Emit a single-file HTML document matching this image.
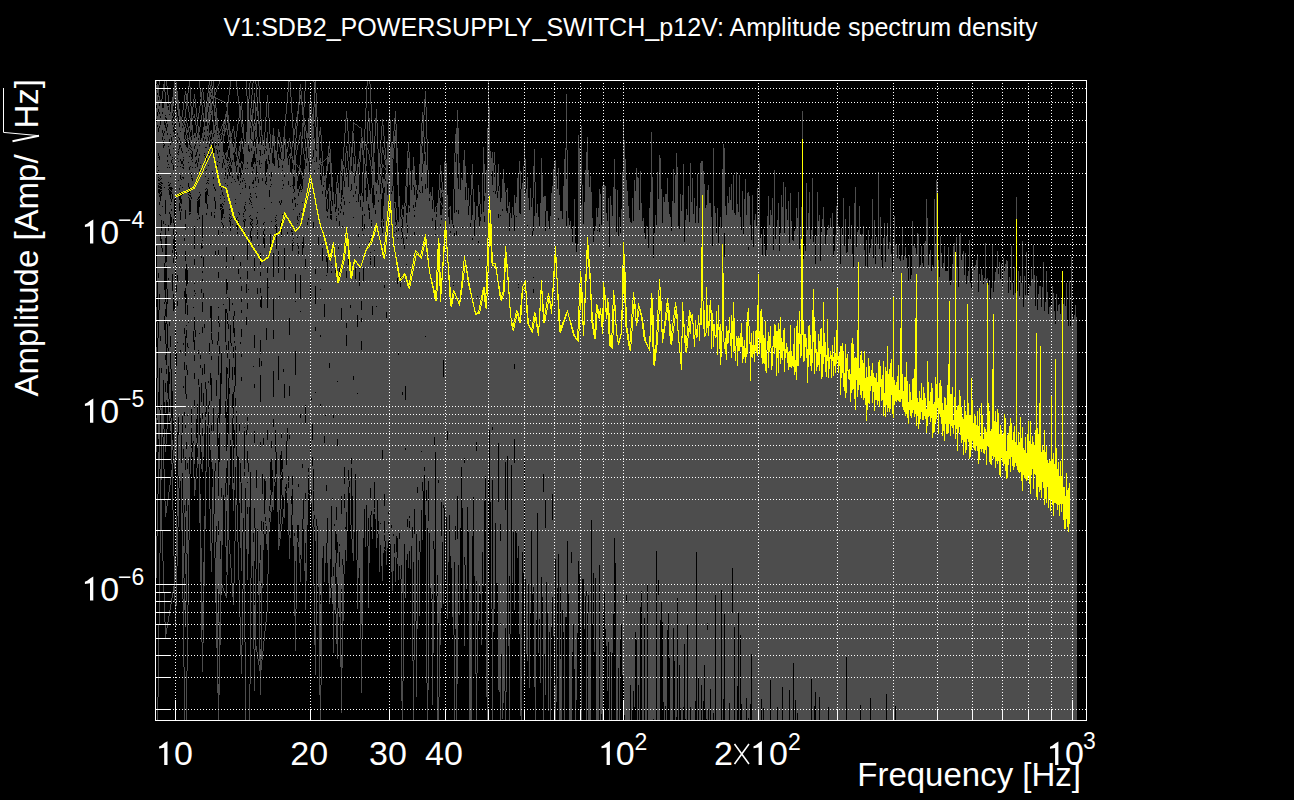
<!DOCTYPE html>
<html><head><meta charset="utf-8"><style>
html,body{margin:0;padding:0;background:#000;width:1294px;height:800px;overflow:hidden}
svg{display:block}
text{font-family:"Liberation Sans",sans-serif;fill:#fff}
</style></head><body>
<svg width="1294" height="800" viewBox="0 0 1294 800">
<rect width="1294" height="800" fill="#000"/>
<path d="M156.5 81v3m0 1v4m0 1v15m0 3v11m0 3v124m0 35v16m0 10v15m0 25v31m0 40v34m0 84v42M157.5 84v9m0 2v17m0 4v9m0 2v39m0 1v5m0 1v108m0 41v16m0 40v42m0 74v42m0 161v23M158.5 85v12m0 3v9m0 3v16m0 4v21m0 3v1m0 1v12m0 1v3m0 1v2m0 1v1m0 2v2m0 1v1m0 3v1m0 4v80m0 5v32m0 28v54m0 16v31m0 13v42m0 131v72M159.5 81v4m0 11v6m0 4v6m0 2v12m0 2v28m0 4v18m0 1v1m0 1v2m0 2v1m0 2v1m0 5v1m0 2v5m0 3v9m0 1v79m0 16v58m0 42v59m0 84v72M160.5 100v16m0 2v2m0 5v51m0 1v2m0 1v2m0 1v1m0 1v1m0 3v1m0 2v2m0 7v14m0 1v17m0 8v95m0 5v69m0 59v84M161.5 99v79m0 1v3m0 2v1m0 1v1m0 2v1m0 1v1m0 4v24m0 11v8m0 9v120m0 5v32m0 3v72m0 20v31M162.5 91v8m0 9v4m0 2v16m0 3v4m0 3v43m0 1v22m0 1v41m0 4v185m0 94v30M163.5 84v7m0 17v25m0 3v5m0 1v1m0 1v1m0 3v73m0 3v156m0 34v15m0 8v32m0 92v31M164.5 81v11m0 10v18m0 5v6m0 2v6m0 1v4m0 2v41m0 1v75m0 27v12m0 2v12m0 14v72m0 27v15m0 25v32m0 91v30M165.5 92v23m0 1v1m0 2v4m0 5v72m0 14v10m0 1v3m0 7v3m0 25v5m0 34v7m0 7v7m0 21v11m0 5v23m0 9v21m0 31v8m0 49v16m0 105v16M166.5 81v5m0 16v16m0 5v4m0 4v104m0 27v4m0 23v13m0 15v4m0 3v20m0 21v4m0 5v26m0 29v15m0 62v7m0 115v6M167.5 86v9m0 11v18m0 3v6m0 2v20m0 2v3m0 2v5m0 1v121m0 15v20m0 24v33m0 12v9m0 12v15m0 70v7m0 116v6M168.5 95v9m0 2v1m0 3v36m0 1v17m0 1v17m0 1v2m0 1v3m0 1v35m0 6v47m0 2v68m0 3v15m0 33v15m0 78v7m0 117v6M169.5 104v10m0 1v24m0 4v6m0 5v13m0 1v5m0 1v10m0 2v1m0 2v1m0 5v17m0 2v108m0 4v46m0 12v15m0 13v9m0 64v7m0 118v6M170.5 103v1m0 8v22m0 1v8m0 2v9m0 2v20m0 1v6m0 1v3m0 3v1m0 8v5m0 1v9m0 11v111m0 11v5m0 17v49m0 3v10m0 46v8m0 119v6M171.5 101v2m0 1v33m0 4v19m0 3v24m0 4v1m0 2v5m0 3v7m0 2v6m0 6v146m0 49v46m0 6v7m0 121v6M172.5 97v16m0 3v2m0 3v2m0 2v16m0 1v15m0 1v1m0 1v3m0 1v24m0 1v5m0 5v51m0 3v21m0 17v100m0 49v10m0 13v47m0 82v6M173.5 89v17m0 4v1m0 2v3m0 3v2m0 1v5m0 2v1m0 2v4m0 1v11m0 1v16m0 5v49m0 4v6m0 6v4m0 10v9m0 5v31m0 17v110m0 29v13m0 47v46m0 30v6M174.5 81v18m0 11v3m0 4v2m0 1v4m0 3v2m0 5v24m0 1v40m0 17v7m0 6v6m0 22v45m0 7v147m0 3v10m0 87v46M175.5 81v1m0 2v39m0 3v2m0 3v3m0 4v59m0 23v14m0 1v5m0 11v11m0 3v5m0 10v50m0 6v8m0 16v12m0 3v10m0 2v14m0 4v14m0 3v27m0 2v23m0 82v24m0 22v24M176.5 82v22m0 8v5m0 1v114m0 2v18m0 7v7m0 2v17m0 7v60m0 14v94m0 56v40m0 10v40M177.5 91v19m0 7v16m0 2v5m0 3v10m0 1v4m0 1v7m0 1v108m0 6v20m0 5v36m0 1v89m0 44v40m0 11v39M178.5 100v16m0 6v15m0 1v11m0 1v1m0 2v1m0 1v6m0 1v18m0 1v236m0 18v41m0 12v39M179.5 109v14m0 4v11m0 2v3m0 1v1m0 4v39m0 2v4m0 6v3m0 8v277M180.5 116v15m0 1v9m0 2v2m0 2v12m0 2v5m0 1v8m0 4v6m0 1v6m0 1v3m0 7v3m0 2v4m0 8v130m0 2v129M181.5 117v31m0 3v10m0 3v15m0 1v12m0 2v1m0 1v3m0 5v5m0 2v224m0 28v68M182.5 110v7m0 6v3m0 2v23m0 2v8m0 3v3m0 1v9m0 1v9m0 1v4m0 3v221m0 17v40m0 40v86M183.5 102v8m0 10v3m0 2v32m0 1v1m0 2v3m0 2v1m0 2v8m0 2v164m0 2v41m0 2v61m0 9v55m0 33v32m0 21v68M184.5 95v7m0 15v8m0 2v5m0 7v99m0 3v50m0 6v31m0 6v28m0 8v42m0 4v89m0 8v40m0 25v32m0 57v53M185.5 91v4m0 14v9m0 6v4m0 7v4m0 1v1m0 4v65m0 9v5m0 6v21m0 10v8m0 11v8m0 26v22m0 20v20m0 18v31m0 3v29m0 13v47m0 36v21m0 28v25M186.5 94v6m0 1v8m0 9v5m0 5v7m0 4v1m0 7v5m0 1v111m0 22v8m0 9v22m0 1v4m0 8v27m0 5v24m0 5v43m0 7v50m0 12v42m0 1v48m0 69v49M187.5 93v13m0 17v4m0 3v3m0 2v7m0 6v122m0 14v21m0 10v28m0 4v23m0 5v40m0 1v47m0 6v85m0 51v66M188.5 86v7m0 13v6m0 15v5m0 6v1m0 1v10m0 1v11m0 1v20m0 4v4m0 2v1m0 1v2m0 1v124m0 1v24m0 1v157m0 35v65M189.5 81v6m0 25v6m0 8v2m0 4v8m0 5v3m0 1v7m0 1v10m0 3v17m0 2v2m0 2v2m0 1v2m0 14v1m0 2v242m0 17v66M190.5 87v19m0 12v14m0 5v8m0 2v2m0 1v3m0 1v12m0 1v6m0 1v19m0 1v1m0 2v3m0 12v1m0 1v260M191.5 106v24m0 6v1m0 3v7m0 1v2m0 1v3m0 3v2m0 1v12m0 2v1m0 2v1m0 1v18m0 2v210m0 16v3m0 20v4M192.5 107v8m0 3v3m0 4v26m0 8v2m0 1v5m0 1v10m0 3v262m0 9v5M193.5 99v8m0 9v2m0 17v172m0 1v23m0 11v99m0 2v35M194.5 94v5m0 15v4m0 15v3m0 2v8m0 3v77m0 23v10m0 6v18m0 1v6m0 2v3m0 1v21m0 13v10m0 10v5m0 6v12m0 6v21m0 8v56m0 14v18M195.5 99v9m0 10v7m0 8v11m0 2v9m0 2v5m0 2v3m0 1v125m0 1v36m0 7v108m0 34v11M196.5 108v9m0 8v8m0 4v4m0 1v10m0 4v4m0 3v256m0 19v5m0 25v11M197.5 117v9m0 7v16m0 3v11m0 4v32m0 1v1m0 12v6m0 1v184m0 39v5m0 9v11M198.5 113v6m0 7v12m0 2v18m0 4v35m0 2v1m0 15v135m0 1v1m0 2v25m0 6v79M199.5 81v7m0 18v7m0 14v5m0 3v10m0 1v8m0 2v13m0 2v21m0 1v3m0 2v1m0 8v10m0 2v114m0 1v53m0 48v88M200.5 88v9m0 2v7m0 15v6m0 13v1m0 2v21m0 1v29m0 2v159m0 4v6m0 3v50m0 6v11m0 24v5m0 30v88M201.5 92v13m0 10v6m0 17v105m0 6v7m0 2v31m0 4v90m0 19v50m0 12v5m0 79v94M202.5 88v4m0 13v10m0 18v82m0 23v2m0 1v5m0 2v23m0 2v6m0 2v21m0 10v15m0 6v35m0 7v38m0 6v9m0 8v36m0 130v28m0 12v30M203.5 92v8m0 13v9m0 5v11m0 3v116m0 10v26m0 6v94m0 13v51m0 105v81M204.5 100v7m0 11v12m0 2v3m0 2v16m0 1v1m0 1v10m0 1v157m0 4v36m0 10v60m0 82v70M205.5 107v15m0 4v13m0 2v6m0 1v8m0 5v9m0 1v5m0 1v12m0 1v2m0 11v179m0 7v23m0 5v3m0 51v58M206.5 101v21m0 4v21m0 1v10m0 3v8m0 1v13m0 1v4m0 1v2m0 13v9m0 2v174m0 26v57M207.5 93v8m0 2v9m0 7v10m0 2v5m0 1v6m0 1v36m0 1v1m0 1v6m0 6v9m0 5v217M208.5 85v8m0 4v10m0 5v11m0 2v12m0 4v9m0 5v10m0 1v12m0 1v1m0 1v2m0 1v11m0 1v185m0 2v22m0 4v3m0 13v42M209.5 81v4m0 6v11m0 4v19m0 8v2m0 2v7m0 3v7m0 1v188m0 11v47m0 4v23m0 39v42M210.5 85v6m0 1v5m0 2v14m0 1v6m0 11v6m0 3v1m0 3v100m0 1v61m0 12v55m0 12v65m0 59v42M211.5 81v5m0 3v4m0 2v4m0 4v7m0 1v4m0 15v4m0 5v73m0 4v90m0 26v1m0 7v16m0 4v18m0 23v24m0 6v31m0 81v29M212.5 86v13m0 2v3m0 6v12m0 11v7m0 3v1m0 7v20m0 1v168m0 4v8m0 1v116m0 18v56M213.5 81v7m0 8v10m0 14v14m0 3v6m0 14v20m0 2v5m0 2v222m0 23v83M214.5 88v10m0 7v11m0 9v8m0 1v14m0 5v4m0 2v28m0 2v8m0 4v11m0 1v2m0 3v253m0 43v44M215.5 92v3m0 2v11m0 4v14m0 4v11m0 5v43m0 2v10m0 8v42m0 4v208m0 8v71m0 16v45M216.5 89v3m0 6v1m0 9v17m0 1v18m0 1v4m0 1v230m0 16v130m0 16v106M217.5 86v3m0 9v1m0 19v13m0 2v1m0 1v15m0 4v7m0 1v3m0 2v174m0 4v73m0 28v143m0 24v80M218.5 84v2m0 13v1m0 28v10m0 1v2m0 5v10m0 2v72m0 5v15m0 5v17m0 6v29m0 1v8m0 7v9m0 9v15m0 19v38m0 5v20m0 58v25m0 14v88m0 61v36M219.5 81v3m0 15v1m0 31v2m0 2v15m0 2v10m0 1v160m0 4v19m0 8v45m0 24v10m0 29v132m0 28v73M220.5 100v1m0 28v2m0 3v1m0 4v46m0 2v8m0 1v2m0 1v5m0 3v1m0 2v163m0 41v127m0 18v86M221.5 100v1m0 25v3m0 4v1m0 1v5m0 3v45m0 2v14m0 3v1m0 1v1m0 10v2m0 1v130m0 31v104m0 9v98M222.5 101v1m0 22v2m0 3v6m0 6v15m0 1v6m0 5v24m0 3v8m0 1v2m0 2v1m0 9v5m0 2v7m0 1v312m0 40v3M223.5 101v1m0 19v8m0 1v1m0 3v9m0 9v7m0 4v32m0 1v8m0 1v4m0 5v11m0 3v76m0 1v190m0 93v3M224.5 102v1m0 16v5m0 1v11m0 19v8m0 2v13m0 1v19m0 1v2m0 1v15m0 1v227m0 2v52m0 92v2M225.5 102v1m0 11v11m0 3v4m0 21v2m0 4v9m0 2v2m0 4v7m0 1v125m0 33v59m0 17v65m0 14v50m0 46v3M226.5 103v4m0 4v6m0 8v5m0 22v7m0 1v87m0 15v4m0 2v11m0 15v15m0 4v32m0 5v17m0 32v13m0 39v17m0 15v28m0 35v26m0 3v23M227.5 103v20m0 6v6m0 15v7m0 4v1m0 1v4m0 1v7m0 4v6m0 1v95m0 9v7m0 2v14m0 11v29m0 5v10m0 6v25m0 48v14m0 34v80M228.5 95v8m0 12v15m0 5v7m0 4v4m0 7v2m0 2v4m0 1v3m0 3v152m0 5v12m0 9v28m0 56v106M229.5 87v8m0 28v14m0 3v8m0 10v4m0 1v1m0 1v1m0 3v3m0 4v33m0 1v4m0 1v2m0 2v1m0 2v76m0 13v48m0 19v10m0 6v91m0 55v14M230.5 81v6m0 44v27m0 4v4m0 6v3m0 1v39m0 1v3m0 1v1m0 5v1m0 4v94m0 18v97m0 114v14M231.5 133v4m0 1v24m0 3v3m0 4v10m0 1v35m0 1v124m0 3v100m0 122v15M232.5 129v4m0 11v16m0 2v14m0 2v46m0 1v78m0 2v62m0 13v14m0 14v10m0 22v49m0 94v14M233.5 126v5m0 16v6m0 2v100m0 5v56m0 17v14m0 11v34m0 26v6m0 59v28m0 72v22M234.5 131v8m0 4v9m0 10v17m0 1v131m0 5v12m0 9v4m0 2v24m0 8v11m0 6v38m0 18v42m0 51v42M235.5 137v11m0 4v2m0 12v15m0 1v17m0 1v3m0 1v142m0 4v3m0 33v12m0 8v61m0 31v43M236.5 81v6m0 44v6m0 11v9m0 4v5m0 6v46m0 2v1m0 2v2m0 3v183m0 2v3m0 40v49M237.5 87v9m0 28v7m0 25v9m0 2v8m0 4v38m0 1v3m0 2v2m0 5v2m0 2v222m0 49v37M238.5 96v8m0 14v6m0 27v5m0 3v15m0 1v1m0 5v31m0 1v7m0 1v1m0 1v46m0 5v183m0 85v38M239.5 104v14m0 28v5m0 1v7m0 4v4m0 7v10m0 1v28m0 2v208m0 8v72m0 77v37M240.5 106v14m0 21v11m0 11v5m0 10v3m0 2v10m0 1v68m0 4v11m0 2v63m0 2v119m0 19v66m0 69v38M241.5 102v8m0 10v7m0 11v6m0 17v2m0 5v5m0 2v111m0 5v8m0 3v8m0 3v16m0 8v17m0 3v20m0 4v102m0 30v58m0 74v29M242.5 110v14m0 3v6m0 8v8m0 13v2m0 6v10m0 2v6m0 1v343m0 57v56M243.5 124v15m0 8v7m0 10v9m0 1v4m0 1v34m0 2v1m0 1v3m0 2v296m0 14v57M244.5 139v41m0 1v25m0 3v2m0 1v7m0 1v1m0 6v4m0 1v195m0 1v3m0 38v3m0 4v166M245.5 144v24m0 1v14m0 1v1m0 3v14m0 1v1m0 1v4m0 2v8m0 2v267m0 154v78M246.5 81v15m0 36v152m0 9v24m0 8v105m0 5v114M247.5 96v66m0 2v4m0 1v72m0 19v11m0 8v24m0 6v108m0 4v4m0 5v21m0 12v19m0 1v24m0 7v66M248.5 99v46m0 6v138m0 1v173m0 9v82M249.5 83v16m0 21v29m0 3v34m0 3v9m0 2v3m0 1v12m0 1v290m0 177v36M250.5 81v2m0 25v12m0 2v6m0 11v54m0 2v1m0 1v3m0 2v13m0 1v2m0 1v3m0 3v6m0 7v234m0 106v106M251.5 95v13m0 7v7m0 4v13m0 1v8m0 3v11m0 5v30m0 1v4m0 1v1m0 1v14m0 1v1m0 1v2m0 2v2m0 3v4m0 6v337M252.5 83v12m0 14v17m0 6v8m0 1v17m0 9v4m0 2v9m0 2v23m0 1v11m0 2v2m0 1v2m0 2v338M253.5 81v2m0 17v13m0 11v17m0 5v8m0 10v3m0 2v11m0 4v3m0 1v178m0 1v166m0 9v107M254.5 93v10m0 16v5m0 2v5m0 12v8m0 11v96m0 13v64m0 13v36m0 4v43m0 12v65m0 20v33m0 44v35m0 9v42M255.5 81v3m0 18v18m0 3v7m0 1v8m0 8v11m0 6v13m0 4v12m0 1v334m0 41v81M256.5 84v13m0 10v4m0 9v17m0 2v9m0 6v12m0 9v11m0 1v9m0 2v19m0 2v5m0 1v245m0 18v81m0 77v6M257.5 97v19m0 21v24m0 1v10m0 2v3m0 1v34m0 1v7m0 4v2m0 1v3m0 1v1m0 7v49m0 6v235m0 123v7M258.5 81v5m0 25v13m0 20v35m0 4v62m0 1v349m0 64v6M259.5 86v17m0 18v16m0 5v8m0 1v9m0 5v193m0 9v196m0 18v80m0 4v6M260.5 103v16m0 7v4m0 7v13m0 6v11m0 1v85m0 12v7m0 4v12m0 5v7m0 7v33m0 14v21m0 27v40m0 5v98m0 15v33m0 56v46M261.5 119v17m0 9v18m0 1v132m0 12v53m0 5v155m0 10v52m0 3v73m0 1v10M262.5 135v19m0 1v23m0 3v293m0 20v94m0 63v9M263.5 140v5m0 1v77m0 2v2m0 1v3m0 5v1m0 7v194m0 8v76m0 12v16m0 91v10M264.5 132v18m0 4v54m0 1v13m0 1v6m0 2v3m0 3v1m0 10v231m0 35v20m0 97v10M265.5 117v15m0 14v2m0 1v12m0 15v5m0 3v297m0 19v17m0 4v2m0 1v10m0 88v9M266.5 103v14m0 21v11m0 2v8m0 13v5m0 5v2m0 1v143m0 12v186m0 8v10m0 68v10M267.5 95v8m0 29v32m0 5v98m0 6v5m0 30v122m0 10v110m0 24v38M268.5 103v15m0 25v12m0 6v126m0 1v286M269.5 118v16m0 14v12m0 4v11m0 1v14m0 7v309m0 5v7m0 4v10M270.5 134v15m0 4v26m0 2v5m0 1v47m0 14v214m0 28v5m0 10v6m0 1v10M271.5 148v24m0 5v7m0 1v17m0 1v18m0 1v219m0 7v11m0 36v17M272.5 135v18m0 10v307m0 22v15M273.5 128v18m0 18v89m0 24v22m0 21v10m0 9v32m0 26v22m0 8v83M274.5 136v22m0 8v313m0 3v4M275.5 150v67m0 1v1m0 1v1m0 1v3m0 4v201m0 22v7m0 19v4M276.5 151v64m0 1v4m0 1v3m0 1v1m0 23v203m0 22v4M277.5 137v15m0 8v352M278.5 129v8m0 3v4m0 10v6m0 8v83m0 22v83m0 24v170M279.5 132v5m0 6v4m0 11v8m0 1v34m0 2v93m0 1v213m0 14v14m0 1v7M280.5 137v6m0 4v5m0 7v44m0 2v18m0 3v229m0 20v4m0 30v15m0 7v8M281.5 143v5m0 4v7m0 1v40m0 3v18m0 2v1m0 13v196m0 5v13m0 21v3m0 20v14m0 15v7M282.5 145v20m0 3v2m0 1v9m0 1v7m0 1v25m0 1v4m0 4v237m0 9v3m0 8v15m0 22v7M283.5 137v22m0 2v23m0 2v183m0 3v125m0 12v8M284.5 126v19m0 14v16m0 2v71m0 32v104m0 14v120M285.5 114v12m0 13v348m0 2v2M286.5 103v11m0 35v292m0 24v19m0 7v2M287.5 92v11m0 44v5m0 6v74m0 2v194m0 13v62M288.5 81v11m0 49v6m0 9v2m0 7v16m0 4v291m0 5v1m0 6v47M289.5 81v1m0 56v4m0 12v2m0 3v108m0 2v49m0 17v51m0 10v39m0 4v92m0 4v24M290.5 82v15m0 45v7m0 4v6m0 13v14m0 1v351M291.5 97v16m0 34v9m0 1v1m0 15v57m0 2v264m0 8v11M292.5 113v15m0 13v6m0 9v7m0 6v16m0 1v13m0 4v28m0 1v1m0 2v5m0 1v2m0 8v16m0 1v208m0 9v4m0 26v10M293.5 128v15m0 17v13m0 2v1m0 13v3m0 1v16m0 1v25m0 1v2m0 1v3m0 1v2m0 1v300M294.5 129v6m0 8v22m0 5v7m0 9v3m0 3v5m0 3v333m0 3v80M295.5 123v6m0 9v12m0 5v43m0 1v4m0 4v67m0 19v8m0 1v49m0 24v186m0 48v42M296.5 117v6m0 3v12m0 12v5m0 9v1m0 9v435M297.5 111v15m0 19v5m0 15v2m0 9v5m0 8v15m0 1v11m0 4v3m0 1v13m0 1v5m0 1v1m0 1v279m0 13v4M298.5 102v12m0 26v5m0 22v1m0 3v5m0 13v4m0 3v24m0 1v6m0 2v17m0 3v2m0 3v230m0 3v38m0 17v5M299.5 90v15m0 30v5m0 25v8m0 13v3m0 3v21m0 2v1m0 1v346M300.5 84v7m0 4v4m0 33v4m0 19v10m0 3v4m0 12v2m0 4v85m0 24v12m0 1v102m0 4v137m0 4v23M301.5 91v14m0 31v19m0 16v4m0 11v3m0 1v1m0 1v19m0 1v347M302.5 103v12m0 8v16m0 3v6m0 26v5m0 10v13m0 1v39m0 13v209m0 4v51M303.5 107v20m0 21v6m0 22v2m0 1v58m0 11v252m0 19v10M304.5 91v16m0 11v7m0 2v12m0 15v6m0 9v402M305.5 81v10m0 34v6m0 8v12m0 8v100m0 10v136m0 18v70m0 8v42m0 20v47M306.5 131v7m0 9v16m0 3v415M307.5 133v15m0 10v64m0 3v300M308.5 118v20m0 2v18m0 3v57m0 2v248m0 4v3m0 18v1M309.5 104v36m0 7v15m0 10v1m0 1v6m0 2v308m0 4v1M310.5 96v8m0 7v11m0 18v12m0 2v88m0 3v37m0 19v139m0 12v55M311.5 102v12m0 3v23m0 1v21m0 2v234m0 2v76m0 1v13m0 5v8M312.5 114v43m0 2v265m0 16v17m0 9v61M313.5 81v1m0 25v17m0 2v12m0 1v11m0 7v65m0 6v241m0 21v1m0 20v8m0 8v59M314.5 82v25m0 31v23m0 1v8m0 2v343m0 4v8m0 59v59M315.5 81v12m0 11v23m0 23v119m0 5v12m0 18v23m0 4v61m0 1v148m0 84v50M316.5 93v24m0 10v22m0 2v6m0 5v357m0 7v99M317.5 117v25m0 2v382M318.5 137v31m0 1v68m0 8v342M319.5 131v6m0 23v4m0 1v530M320.5 127v8m0 23v7m0 15v109m0 1v45m0 2v67m0 2v189m0 9v52m0 29v35M321.5 135v16m0 11v1m0 1v12m0 9v500M322.5 151v15m0 10v15m0 3v49m0 1v4m0 13v297M323.5 161v1m0 4v19m0 2v359M324.5 160v1m0 15v5m0 1v122m0 13v119m0 7v139M325.5 159v1m0 15v15m0 7v218m0 1v147M326.5 158v1m0 7v12m0 12v9m0 12v44m0 7v13m0 1v209m0 6v52M327.5 156v15m0 20v3m0 5v10m0 3v4m0 2v40m0 15v245m0 25v20M328.5 146v10m0 1v7m0 24v3m0 18v374M329.5 141v8m0 4v9m0 22v179m0 5v236M330.5 149v25m0 17v10m0 13v1m0 4v340m0 29v10M331.5 163v24m0 14v10m0 3v1m0 5v44m0 1v6m0 2v233m0 71v11M332.5 177v23m0 6v292m0 1v105M333.5 192v223m0 3v149m0 9v77M334.5 204v320m0 2v84M335.5 194v13m0 5v49m0 1v5m0 1v2m0 3v258m0 19v13m0 21v30M336.5 182v12m0 15v7m0 1v1m0 3v286m0 13v14m0 29v14m0 37v30M337.5 175v8m0 5v193m0 1v57m0 7v96m0 11v31m0 24v51M338.5 183v25m0 3v2m0 2v32m0 2v359M339.5 193v28m0 5v42m0 10v266m0 2v6m0 15v50M340.5 171v33m0 2v5m0 2v454M341.5 159v12m0 5v14m0 8v1m0 3v4m0 3v99m0 13v175m0 18v75m0 67v57M342.5 161v15m0 19v31m0 1v332m0 6v103M343.5 147v14m0 4v4m0 12v16m0 2v13m0 3v350m0 9v47M344.5 133v14m0 20v14m0 6v14m0 4v262m0 17v10m0 14v66M345.5 119v14m0 20v14m0 6v354m0 2v21M346.5 111v8m0 27v7m0 15v7m0 2v94m0 7v45m0 5v7m0 11v166m0 18v31M347.5 118v13m0 20v10m0 14v355M348.5 131v13m0 17v9m0 17v70m0 8v205m0 10v7M349.5 144v13m0 13v32m0 1v278m0 6v6M350.5 157v33m0 1v114m0 3v217M351.5 147v19m0 5v13m0 6v268m0 6v4m0 57v14M352.5 131v22m0 19v324m0 43v14M353.5 122v9m0 2v8m0 16v15m0 2v21m0 2v20m0 1v158m0 4v181M354.5 123v1m0 17v15m0 8v12m0 7v349M355.5 124v1m0 31v15m0 5v15m0 3v74m0 11v195m0 5v1M356.5 124v1m0 46v15m0 3v12m0 1v358M357.5 125v1m0 38v151m0 12v66m0 1v137m0 29v49M358.5 126v1m0 32v8m0 7v20m0 8v32m0 3v341M359.5 127v1m0 23v8m0 3v13m0 19v53m0 1v20m0 1v3m0 14v282M360.5 127v1m0 15v19m0 34v4m0 7v432M361.5 128v9m0 1v10m0 45v108m0 9v8m0 4v19m0 9v274m0 15v54M362.5 137v18m0 17v21m0 3v11m0 4v4m0 16v408M363.5 141v2m0 7v23m0 29v32m0 1v33m0 13v257M364.5 129v21m0 8v6m0 9v41m0 2v8m0 5v280M365.5 108v21m0 15v2m0 18v24m0 2v357M366.5 86v22m0 36v22m0 5v7m0 23v304M367.5 81v5m0 36v22m0 4v2m0 28v6m0 13v349M368.5 111v11m0 28v4m0 30v20m0 6v308m0 28v62M369.5 81v3m0 34v13m0 23v6m0 30v18m0 3v1m0 7v22m0 1v321M370.5 84v20m0 27v13m0 16v6m0 28v43m0 1v14m0 1v3m0 1v1m0 2v1m0 4v223m0 10v17M371.5 104v19m0 21v13m0 9v6m0 16v32m0 2v1m0 3v285m0 4v12M372.5 123v20m0 14v12m0 2v17m0 15v103m0 9v224M373.5 143v42m0 23v306M374.5 136v17m0 9v33m0 10v45m0 1v4m0 13v214m0 26v1m0 3v2M375.5 118v18m0 46v28m0 4v305M376.5 109v14m0 60v8m0 3v112m0 1v241M377.5 123v26m0 31v320m0 34v4M378.5 149v31m0 5v15m0 2v319m0 9v4M379.5 153v14m0 7v398M380.5 140v13m0 11v10m0 2v8m0 10v329m0 1v21M381.5 126v14m0 13v11m0 4v8m0 7v16m0 22v1m0 6v338M382.5 119v7m0 21v6m0 11v4m0 9v6m0 5v5m0 26v9m0 5v217m0 9v122M383.5 125v11m0 14v5m0 10v2m0 12v9m0 18v13m0 2v1m0 4v327M384.5 136v12m0 7v5m0 7v1m0 11v8m0 6v92m0 3v206m0 12v15m0 12v2m0 6v6m0 2v1M385.5 148v11m0 1v5m0 3v2m0 4v5m0 2v360m0 9v1M386.5 159v153m0 6v247M387.5 141v43m0 11v353M388.5 120v21m0 1v23m0 8v7m0 2v330m0 2v8m0 2v8m0 1v8M389.5 109v11m0 15v12m0 10v7m0 11v144m0 4v211M390.5 120v22m0 5v397M391.5 142v50m0 2v331m0 3v44M392.5 144v14m0 1v27m0 5v400M393.5 131v13m0 4v11m0 27v348m0 2v35M394.5 118v13m0 5v12m0 54v1m0 5v24m0 1v311m0 9v4M395.5 111v13m0 6v11m0 61v6m0 14v3m0 1v356M396.5 124v39m0 45v12m0 5v5m0 2v304m0 16v6M397.5 148v37m0 35v18m0 1v39m0 6v254m0 20v6M398.5 172v35m0 15v6m0 3v122m0 2v225M399.5 196v337m0 6v27M400.5 217v60m0 2v2m0 1v1m0 4v292M401.5 209v8m0 2v7m0 6v6m0 1v326m0 14v122M402.5 205v4m0 6v4m0 9v4m0 6v154m0 3v198m0 88v39M403.5 207v2m0 8v21m0 6v437M404.5 203v42m0 4v295M405.5 186v17m0 3v180m0 14v48m0 2v148M406.5 169v17m0 1v19m0 7v2m0 8v14m0 2v25m0 1v295M407.5 151v36m0 26v12m0 8v286m0 8v27M408.5 142v10m0 6v10m0 37v363M409.5 152v33m0 21v2m0 4v304m0 2v3m0 7v23M410.5 171v398M411.5 190v356M412.5 170v357m0 11v123M413.5 157v28m0 2v18m0 3v354m0 98v60M414.5 166v21m0 8v15m0 1v4m0 2v15m0 3v274m0 25v126M415.5 180v22m0 5v414M416.5 185v5m0 10v334m0 87v76M417.5 190v4m0 4v289m0 6v136M418.5 185v375M419.5 164v26m0 2v349m0 11v64M420.5 144v48m0 1v359M421.5 123v21m0 2v31m0 4v270m0 1v58M422.5 112v11m0 8v15m0 7v11m0 10v12m0 7v289m0 9v49M423.5 115v22m0 27v327M424.5 99v16m0 22v17m0 7v306m0 4v4M425.5 91v16m0 45v32m0 5v147m0 1v178M426.5 107v32m0 26v325m0 11v182M427.5 139v31m0 18v340m0 155v37M428.5 170v311m0 40v169M429.5 194v4m0 3v332M430.5 192v396M431.5 196v403M432.5 187v13m0 9v9m0 3v373m0 5v106M433.5 200v341m0 8v104M434.5 212v225m0 8v104M435.5 207v13m0 10v4m0 1v217M436.5 206v1m0 5v2m0 3v379M437.5 203v372m0 21v124M438.5 190v290m0 3v140m0 74v23M439.5 174v16m0 8v499M440.5 165v9m0 14v10m0 3v2m0 12v9m0 2v419M441.5 171v11m0 8v3m0 10v2m0 10v3m0 2v282m0 34v72M442.5 182v10m0 1v4m0 8v2m0 2v333M443.5 190v170m0 17v128m0 3v96M444.5 162v346M445.5 147v433M446.5 163v354M447.5 195v236m0 9v179M448.5 209v1m0 7v345M449.5 207v2m0 15v291M450.5 206v25m0 2v323M451.5 220v348M452.5 224v393M453.5 189v36m0 3v54m0 1v2m0 1v349M454.5 153v36m0 24v20m0 3v326m0 73v85M455.5 134v19m0 9v364m0 14v89M456.5 128v82m0 2v19m0 4v485M457.5 110v44m0 24v318m0 43v145M458.5 128v45m0 16v21m0 4v351M459.5 163v452M460.5 190v338M461.5 178v289M462.5 180v47m0 1v280M463.5 160v440M464.5 150v308m0 5v94m0 8v81M465.5 166v21m0 13v365M466.5 183v406M467.5 200v307M468.5 188v18m0 9v317M469.5 206v514M470.5 195v28m0 5v217m0 1v274M471.5 175v20m0 25v500M472.5 164v25m0 26v23m0 2v296M473.5 189v308M474.5 202v18m0 16v340M475.5 220v454M476.5 206v236m0 9v130m0 92v47M477.5 206v90m0 1v376M478.5 185v21m0 11v24m0 2v378M479.5 192v12m0 22v33m0 1v326M480.5 204v13m0 4v373M481.5 214v431M482.5 174v378M483.5 147v27m0 38v374M484.5 164v32m0 5v15m0 6v279M485.5 193v283M486.5 170v527M487.5 128v592M488.5 81v398M489.5 107v323M490.5 151v351M491.5 158v16m0 2v433M492.5 152v19m0 14v242m0 3v50m0 129v111M493.5 163v28m0 1v440M494.5 152v13m0 12v432M495.5 165v26m0 3v329M496.5 191v392M497.5 174v18m0 6v385M498.5 164v22m0 5v23m0 4v225m0 59v188M499.5 186v506M500.5 202v13m0 1v308m0 17v82m0 2v95M501.5 198v456M502.5 179v30m0 2v508M503.5 169v534M504.5 183v508M505.5 192v270m0 48v118m0 63v29M506.5 190v2m0 19v481M507.5 188v20m0 5v243M508.5 206v440M509.5 202v11m0 18v345m0 58v86M510.5 213v421M511.5 218v247M512.5 207v376M513.5 215v317M514.5 195v20m0 16v133m0 5v70m0 24v147M515.5 203v328M516.5 197v19m0 1v316M517.5 178v380M518.5 174v110m0 1v2m0 1v258M519.5 161v13m0 39v421M520.5 171v18m0 25v502M521.5 189v531M522.5 183v369M523.5 166v407M524.5 144v22m0 16v274m0 117v112M525.5 159v30m0 4v386M526.5 189v465M527.5 177v48m0 1v435M528.5 198v386M529.5 210v478M530.5 188v425M531.5 207v324M532.5 198v33m0 5v358M533.5 166v32m0 33v46m0 1v11m0 4v294M534.5 149v33m0 34v471M535.5 182v538M536.5 213v407M537.5 204v309M538.5 217v436M539.5 226v393M540.5 203v480M541.5 158v419M542.5 175v422M543.5 197v277m0 18v228M544.5 196v458M545.5 196v15m0 20v269m0 28v167M546.5 211v371M547.5 211v402M548.5 221v490M549.5 229v403M550.5 216v504M551.5 193v434M552.5 186v308m0 26v77M553.5 169v467M554.5 161v559M555.5 160v399m0 126v35M556.5 176v526M557.5 189v399M558.5 168v50m0 2v334M559.5 195v525M560.5 211v376m0 72v61M561.5 211v509M562.5 219v391M563.5 186v446M564.5 159v561M565.5 148v469M566.5 94v56m0 29v32m0 15v391M567.5 150v391M568.5 218v376M569.5 225v495M570.5 221v499M571.5 229v323m0 11v157M572.5 242v410M573.5 226v398M574.5 199v470M575.5 243v477M576.5 252v448M577.5 244v389M578.5 135v426M579.5 148v426M580.5 165v461M581.5 126v59m0 20v515M582.5 185v394M583.5 224v355M584.5 202v427M585.5 170v426M586.5 152v439m0 5v124M587.5 137v475M588.5 170v425m0 17v108M589.5 187v533M590.5 176v544M591.5 192v328M592.5 218v406M593.5 242v331M594.5 231v421M595.5 226v352M596.5 208v512M597.5 217v13m0 1v489M598.5 208v512M599.5 189v35m0 8v333M600.5 194v526M601.5 225v489M602.5 186v49m0 2v483M603.5 182v430M604.5 185v407M605.5 186v443M606.5 213v433M607.5 221v470M608.5 198v444M609.5 247v473M610.5 196v456M611.5 205v515M612.5 216v437M613.5 187v427M614.5 159v379M615.5 189v374M616.5 232v488M617.5 190v530M618.5 236v432M619.5 217v503M620.5 233v406M621.5 209v415M622.5 172v503M623.5 119v562M624.5 140v575M625.5 159v561M626.5 180v415m0 8v117M627.5 191v529M628.5 206v514M629.5 218v502M630.5 222v463M631.5 223v497M632.5 198v512M633.5 221v470M634.5 180v527M635.5 191v441M636.5 168v472M637.5 177v543M638.5 178v507M639.5 210v510M640.5 171v436M641.5 203v388M642.5 221v499M643.5 218v502M644.5 233v385M645.5 239v481M646.5 226v494M647.5 229v356M648.5 248v472M649.5 208v512M650.5 192v528M651.5 132v588M652.5 177v543M653.5 258v461M654.5 233v487M655.5 215v505M656.5 225v326M657.5 172v548M658.5 199v381m0 15v125M659.5 155v565M660.5 158v462M661.5 189v413M662.5 223v399M663.5 197v505M664.5 202v518M665.5 194v512M666.5 194v526M667.5 178v452M668.5 202v411M669.5 214v444M670.5 217v503M671.5 231v489M672.5 201v519M673.5 169v459M674.5 203v458M675.5 175v545M676.5 153v564M677.5 167v431M678.5 226v494M679.5 229v436M680.5 194v514M681.5 211v509M682.5 195v525M683.5 164v543M684.5 242v402M685.5 220v499M686.5 209v511M687.5 215v410M688.5 186v534M689.5 222v498M690.5 163v544M691.5 202v518M692.5 178v542M693.5 214v506M694.5 198v522M695.5 223v478M696.5 206v346M697.5 174v546M698.5 223v454M699.5 208v512M700.5 163v557M701.5 161v524M702.5 161v559M703.5 171v530M704.5 184v481M705.5 208v502M706.5 205v514M707.5 190v433m0 7v90M708.5 185v524M709.5 203v517M710.5 203v486M711.5 217v503M712.5 246v474M713.5 148v565M714.5 206v514M715.5 213v382M716.5 233v487M717.5 208v512M718.5 243v477M719.5 227v493M720.5 217v503M721.5 228v362M722.5 169v551M723.5 144v555M724.5 148v85m0 24v357M725.5 206v514M726.5 215v505M727.5 196v524M728.5 203v517M729.5 187v516M730.5 200v520M731.5 184v536M732.5 210v358m0 45v107M733.5 175v545M734.5 213v414M735.5 215v505M736.5 172v548M737.5 204v482M738.5 212v401M739.5 175v545M740.5 217v418M741.5 230v474M742.5 191v529M743.5 234v486M744.5 199v521M745.5 179v541M746.5 215v483M747.5 193v527M748.5 192v55m0 3v468M749.5 196v524M750.5 225v479M751.5 240v414M752.5 195v525M753.5 247v473M754.5 220v500M755.5 214v506M756.5 226v494M757.5 188v532M758.5 215v505M759.5 163v557M760.5 238v482M761.5 234v465M762.5 255v465M763.5 229v479M764.5 246v474M765.5 256v464M766.5 250v470M767.5 216v504M768.5 196v524M769.5 225v495M770.5 210v470M771.5 215v505M772.5 198v522M773.5 250v470M774.5 170v550M775.5 239v481M776.5 228v492M777.5 220v487M778.5 203v517M779.5 251v469M780.5 233v487M781.5 195v525M782.5 207v480M783.5 182v538M784.5 233v487M785.5 187v533M786.5 209v511M787.5 220v500M788.5 201v519M789.5 243v447M790.5 193v527M791.5 221v499M792.5 240v480M793.5 241v422M794.5 231v489M795.5 229v471M796.5 208v512M797.5 218v495M798.5 192v528M799.5 249v471M800.5 228v492M801.5 207v513M802.5 111v609M803.5 259v461M804.5 246v474M805.5 251v469M806.5 183v537M807.5 230v490M808.5 213v507M809.5 192v528M810.5 239v481M811.5 230v449M812.5 178v542M813.5 242v478M814.5 236v470M815.5 264v428M816.5 236v484M817.5 192v528M818.5 221v499M819.5 215v482M820.5 261v459M821.5 232v488M822.5 219v501M823.5 207v513M824.5 227v493M825.5 244v476M826.5 235v485M827.5 230v490M828.5 225v482M829.5 228v492M830.5 218v502M831.5 227v493M832.5 213v507M833.5 257v463M834.5 251v469M835.5 235v485M836.5 206v514M837.5 185v535M838.5 226v494M839.5 229v491M840.5 264v456M841.5 228v492M842.5 236v484M843.5 198v522M844.5 246v474M845.5 219v501M846.5 253v404M847.5 252v468M848.5 239v481M849.5 206v514M850.5 239v481M851.5 225v495M852.5 254v466M853.5 267v453M854.5 203v517M855.5 187v533M856.5 247v473M857.5 232v488M858.5 230v490M859.5 206v514M860.5 234v471M861.5 235v485M862.5 234v486M863.5 226v494M864.5 250v470M865.5 266v454M866.5 240v480M867.5 267v453M868.5 230v490M869.5 253v467M870.5 248v450M871.5 239v481M872.5 199v521M873.5 258v462M874.5 220v500M875.5 264v456M876.5 237v483M877.5 244v476M878.5 172v548M879.5 249v471M880.5 217v503M881.5 260v460M882.5 268v452M883.5 238v482M884.5 223v497M885.5 262v458M886.5 236v458M887.5 223v497M888.5 249v471M889.5 242v478M890.5 198v522M891.5 254v466M892.5 272v448M893.5 240v480M894.5 216v504M895.5 245v461M896.5 244v476M897.5 258v462M898.5 245v475M899.5 259v461M900.5 261v459M901.5 255v465M902.5 228v492M903.5 260v460M904.5 256v464M905.5 247v473M906.5 258v462M907.5 268v452M908.5 281v439M909.5 255v465M910.5 279v441M911.5 275v445M912.5 221v499M913.5 246v474M914.5 244v476M915.5 248v472M916.5 254v466M917.5 233v487M918.5 234v486M919.5 267v453M920.5 265v455M921.5 246v474M922.5 263v457M923.5 268v452M924.5 243v477M925.5 241v479M926.5 199v521M927.5 218v502M928.5 265v455M929.5 254v466M930.5 250v470M931.5 271v449M932.5 265v455M933.5 267v453M934.5 199v521M935.5 245v475M936.5 180v540M937.5 182v538M938.5 260v460M939.5 277v443M940.5 236v484M941.5 253v467M942.5 268v452M943.5 263v457M944.5 246v474M945.5 271v449M946.5 271v449M947.5 271v449M948.5 247v473M949.5 281v439M950.5 285v435M951.5 280v440M952.5 264v456M953.5 246v474M954.5 243v477M955.5 279v441M956.5 237v483M957.5 267v453M958.5 287v433M959.5 235v485M960.5 233v487M961.5 260v460M962.5 254v466M963.5 251v469M964.5 275v445M965.5 253v467M966.5 284v436M967.5 276v444M968.5 271v449M969.5 240v480M970.5 283v437M971.5 288v432M972.5 261v459M973.5 267v453M974.5 270v450M975.5 265v455M976.5 260v460M977.5 254v466M978.5 292v428M979.5 274v446M980.5 281v439M981.5 269v451M982.5 275v445M983.5 284v436M984.5 278v442M985.5 243v477M986.5 279v441M987.5 278v442M988.5 285v435M989.5 280v440M990.5 299v421M991.5 288v432M992.5 244v476M993.5 292v428M994.5 281v439M995.5 272v448M996.5 268v452M997.5 251v469M998.5 274v446M999.5 262v458M1000.5 279v441M1001.5 264v456M1002.5 286v434M1003.5 258v462M1004.5 271v449M1005.5 264v456M1006.5 260v460M1007.5 261v459M1008.5 293v427M1009.5 277v443M1010.5 290v430M1011.5 246v474M1012.5 283v437M1013.5 295v425M1014.5 267v453M1015.5 293v427M1016.5 197v523M1017.5 291v429M1018.5 271v449M1019.5 296v424M1020.5 276v444M1021.5 283v437M1022.5 241v479M1023.5 307v413M1024.5 276v444M1025.5 295v425M1026.5 252v468M1027.5 295v425M1028.5 295v425M1029.5 285v435M1030.5 286v434M1031.5 269v451M1032.5 279v441M1033.5 245v475M1034.5 275v445M1035.5 306v414M1036.5 276v444M1037.5 310v410M1038.5 294v426M1039.5 286v434M1040.5 286v434M1041.5 307v413M1042.5 287v433M1043.5 262v458M1044.5 311v409M1045.5 302v418M1046.5 271v449M1047.5 292v428M1048.5 314v406M1049.5 307v413M1050.5 306v414M1051.5 305v415M1052.5 286v434M1053.5 293v427M1054.5 311v409M1055.5 324v396M1056.5 294v426M1057.5 311v409M1058.5 305v415M1059.5 304v416M1060.5 314v406M1061.5 300v420M1062.5 285v435M1063.5 304v416M1064.5 298v422M1065.5 306v414M1066.5 283v437M1067.5 320v400M1068.5 326v394M1069.5 281v439M1070.5 326v394M1071.5 257v463M1072.5 315v405M1073.5 319v401M1074.5 315v405M1075.5 305v415M1076.5 317v403" stroke="rgb(77, 77, 77)" stroke-width="1" fill="none" shape-rendering="crispEdges"/>
<path d="M175.5 83V720M310.5 83V720M389.5 83V720M445.5 83V720M488.5 83V720M524.5 83V720M554.5 83V720M580.5 83V720M603.5 83V720M623.5 83V720M758.5 83V720M837.5 83V720M893.5 83V720M937.5 83V720M972.5 83V720M1002.5 83V720M1028.5 83V720M1051.5 83V720M1072.5 83V720M158 709.5H1086M158 677.5H1086M158 655.5H1086M158 638.5H1086M158 624.5H1086M158 612.5H1086M158 601.5H1086M158 592.5H1086M158 584.5H1086M158 530.5H1086M158 499.5H1086M158 477.5H1086M158 459.5H1086M158 445.5H1086M158 433.5H1086M158 423.5H1086M158 414.5H1086M158 406.5H1086M158 352.5H1086M158 320.5H1086M158 298.5H1086M158 281.5H1086M158 267.5H1086M158 255.5H1086M158 244.5H1086M158 235.5H1086M158 227.5H1086M158 173.5H1086M158 142.5H1086M158 120.5H1086M158 102.5H1086M158 88.5H1086" stroke="#fff" stroke-width="1" stroke-dasharray="1 2" fill="none" shape-rendering="crispEdges"/>
<path d="M175.5 195v1M176.5 195v2M177.5 194v1m0 1v1M178.5 194v2M179.5 193v1m0 1v1M180.5 193v2M181.5 192v1m0 1v1M182.5 192v2M183.5 191v1m0 1v1M184.5 191v2M185.5 191v2M186.5 190v1m0 1v1M187.5 190v2M188.5 189v1m0 1v1M189.5 189v2M190.5 188v1m0 1v1M191.5 188v2M192.5 187v1m0 1v1M193.5 186v3M194.5 184v2m0 1v2M195.5 182v2m0 1v2M196.5 179v3m0 1v2M197.5 177v2m0 2v2M198.5 175v2m0 2v2M199.5 172v3m0 2v2M200.5 170v2m0 3v2M201.5 168v2m0 3v2M202.5 165v3m0 3v2M203.5 163v2m0 3v3M204.5 161v2m0 3v2M205.5 158v3m0 3v2M206.5 156v2m0 4v2M207.5 154v2m0 4v2M208.5 151v3m0 4v2M209.5 149v2m0 5v2M210.5 147v2m0 5v2M211.5 145v3m0 4v2M212.5 148v5M213.5 153v5M214.5 157v6M215.5 161v7M216.5 166v7M217.5 170v8M218.5 175v8M219.5 179v7M220.5 183v3M221.5 186v1M222.5 186v1M223.5 186v2M224.5 187v1M225.5 187v2M226.5 188v5M227.5 190v7M228.5 194v7M229.5 198v6M230.5 201v7M231.5 205v7M232.5 208v8M233.5 212v6M234.5 216v4M235.5 218v3M236.5 220v3M237.5 221v4M238.5 223v3M239.5 225v3M240.5 226v3M241.5 228v3M242.5 229v3M243.5 231v3M244.5 232v4M245.5 234v3M246.5 236v3M247.5 237v3M248.5 239v3M249.5 240v3M250.5 242v3M251.5 243v4M252.5 245v3M253.5 247v3M254.5 248v3M255.5 250v3M256.5 251v3M257.5 253v3M258.5 254v4M259.5 256v3M260.5 258v3M261.5 259v3M262.5 260v2M263.5 260v1M264.5 259v2M265.5 258v2M266.5 257v2M267.5 257v2M268.5 255v3M269.5 251v5M270.5 247v6M271.5 244v6M272.5 240v7M273.5 236v7M274.5 234v2m0 1v3M275.5 234v3M276.5 233v2M277.5 233v2M278.5 232v2M279.5 231v3M280.5 227v5M281.5 223v6M282.5 219v7M283.5 215v4m0 1v3M284.5 212v3m0 2v3M285.5 213v4M286.5 215v3M287.5 217v2M288.5 218v3M289.5 220v3M290.5 221v3M291.5 223v3M292.5 225v2M293.5 226v3M294.5 228v3M295.5 230v2M296.5 229v2M297.5 228v2M298.5 227v2M299.5 226v1M300.5 223v3M301.5 218v6M302.5 213v7M303.5 208v8M304.5 203v9M305.5 198v5m0 1v4M306.5 193v5m0 2v4M307.5 188v5m0 3v4M308.5 183v5m0 4v4M309.5 178v5m0 5v4M310.5 175v3m0 6v4M311.5 178v6M312.5 183v6M313.5 188v6M314.5 193v6M315.5 198v7M316.5 204v6M317.5 209v6M318.5 214v6M319.5 219v5M320.5 223v4M321.5 227v3M322.5 230v3M323.5 232v5M324.5 235v6M325.5 238v7M326.5 242v7M327.5 246v7M328.5 250v7M329.5 254v6M330.5 253v4m0 1v3M331.5 249v9M332.5 245v8M333.5 242v6M334.5 247v10M335.5 256v11M336.5 263v14M337.5 271v12M338.5 276v7M339.5 272v4m0 1v4M340.5 268v4m0 1v4M341.5 264v4m0 1v4M342.5 260v4m0 1v4M343.5 253v7m0 1v4M344.5 243v10m0 1v7M345.5 233v10m0 3v8M346.5 227v7m0 4v8M347.5 233v13M348.5 239v20M349.5 250v21M350.5 262v16M351.5 271v8M352.5 266v10M353.5 262v8M354.5 259v5M355.5 260v2M356.5 261v2M357.5 263v2M358.5 264v2M359.5 265v2M360.5 266v2M361.5 263v3M362.5 260v3M363.5 256v4M364.5 253v4M365.5 250v4M366.5 248v3M367.5 246v3M368.5 245v1m0 1v1M369.5 243v4M370.5 241v2m0 1v1M371.5 238v3m0 1v2M372.5 235v7M373.5 231v7M374.5 228v3m0 1v3M375.5 225v7M376.5 223v5M377.5 226v6M378.5 231v5M379.5 236v4M380.5 240v5M381.5 244v6M382.5 248v7M383.5 252v6M384.5 242v10m0 2v5M385.5 232v10m0 3v9M386.5 221v11m0 4v9M387.5 211v10m0 5v10M388.5 201v10m0 6v9M389.5 195v6m0 7v9M390.5 201v12M391.5 210v15M392.5 224v14M393.5 237v10M394.5 246v6M395.5 252v6M396.5 257v8M397.5 262v9M398.5 268v9M399.5 273v8M400.5 278v3M401.5 277v1m0 1v1M402.5 276v1m0 1v1M403.5 274v4M404.5 273v3M405.5 274v5M406.5 276v6M407.5 280v6M408.5 283v5M409.5 280v5m0 1v3M410.5 274v6m0 1v5M411.5 269v5m0 2v5M412.5 264v5m0 2v5M413.5 258v6m0 2v5M414.5 253v5m0 3v5M415.5 250v3m0 3v5M416.5 251v1m0 1v3M417.5 252v1m0 1v1M418.5 253v3M419.5 255v2M420.5 254v4M421.5 250v4m0 2v3M422.5 246v4m0 1v5M423.5 241v5m0 1v4M424.5 237v4m0 1v5M425.5 234v10M426.5 239v13M427.5 248v12M428.5 258v10M429.5 267v7M430.5 274v5M431.5 278v6M432.5 282v6M433.5 286v7M434.5 290v8M435.5 290v11M436.5 270v20m0 1v10M437.5 249v21m0 2v19M438.5 238v34M439.5 243v43M440.5 272v30M441.5 278v16M442.5 262v18M443.5 246v20M444.5 230v22M445.5 221v17M446.5 230v19M447.5 247v16M448.5 262v18M449.5 275v22M450.5 287v19M451.5 298v9M452.5 293v5m0 1v5M453.5 290v3m0 1v5M454.5 291v3M455.5 293v3M456.5 296v3M457.5 298v3M458.5 301v3M459.5 300v6M460.5 290v12M461.5 281v14M462.5 271v17M463.5 261v10m0 2v7M464.5 256v5m0 5v7M465.5 260v7M466.5 265v8M467.5 271v9M468.5 277v9M469.5 283v7M470.5 288v6M471.5 293v5M472.5 298v5M473.5 302v5M474.5 307v5M475.5 311v4M476.5 313v2M477.5 312v2M478.5 310v4M479.5 305v5m0 1v3M480.5 300v5m0 1v5M481.5 295v5m0 1v5M482.5 290v11M483.5 287v8M484.5 287v15M485.5 293v15M486.5 266v28m0 2v13M487.5 238v28m0 6v24M488.5 210v28m0 9v25M489.5 196v17m0 10v24M490.5 210v36M491.5 224v39M492.5 252v14M493.5 263v1m0 1v1M494.5 263v1m0 2v1M495.5 263v6M496.5 267v8M497.5 274v7M498.5 281v8M499.5 286v10M500.5 292v8M501.5 295v6M502.5 292v3m0 1v3M503.5 280v16M504.5 258v34M505.5 246v26M506.5 252v16M507.5 264v16M508.5 277v17M509.5 292v16M510.5 307v11M511.5 318v8M512.5 323v7M513.5 322v5m0 1v3M514.5 318v4m0 1v5M515.5 313v5m0 1v4M516.5 310v3m0 1v5M517.5 311v5M518.5 313v7M519.5 317v6M520.5 305v18M521.5 293v22M522.5 286v13M523.5 284v2m0 3v1M524.5 282v2m0 3v2M525.5 280v13M526.5 291v22M527.5 305v19M528.5 318v8M529.5 325v3M530.5 327v3M531.5 328v4M532.5 322v6m0 1v4M533.5 316v6m0 1v6M534.5 312v4m0 1v6M535.5 313v8M536.5 317v10M537.5 324v9M538.5 326v10M539.5 308v19M540.5 290v21M541.5 280v14M542.5 291v21M543.5 304v19M544.5 314v9M545.5 308v6m0 1v5M546.5 302v6m0 2v5M547.5 296v6m0 2v6M548.5 293v4m0 2v5M549.5 296v7M550.5 301v8M551.5 304v10M552.5 288v18M553.5 271v21M554.5 255v22M555.5 246v17M556.5 257v22M557.5 278v22M558.5 294v27M559.5 309v23M560.5 325v8M561.5 325v6M562.5 322v6M563.5 320v5M564.5 317v5M565.5 314v5M566.5 312v4M567.5 310v3M568.5 313v4M569.5 317v4M570.5 320v5M571.5 323v6M572.5 327v6M573.5 330v6M574.5 334v3M575.5 336v3M576.5 338v2M577.5 329v12M578.5 306v23m0 2v11M579.5 283v23m0 4v21M580.5 271v12m0 5v22M581.5 277v26M582.5 292v33M583.5 321v15M584.5 299v26M585.5 274v29M586.5 250v31M587.5 237v22M588.5 245v22M589.5 259v20M590.5 273v27M591.5 294v29M592.5 312v17M593.5 323v12M594.5 329v10M595.5 313v26M596.5 304v9m0 1v16M597.5 305v9M598.5 309v9M599.5 311v8M600.5 308v7M601.5 314v13M602.5 308v26M603.5 282v40M604.5 287v13M605.5 295v17M606.5 308v11M607.5 298v17M608.5 302v32M609.5 313v33M610.5 335v12M611.5 333v15M612.5 305v28m0 2v14M613.5 290v15m0 4v26M614.5 295v16M615.5 305v20M616.5 324v12M617.5 335v7M618.5 341v4M619.5 338v5M620.5 334v5M621.5 310v25M622.5 265v55M623.5 242v23m0 3v26M624.5 254v49M625.5 272v55M626.5 307v26M627.5 328v12M628.5 334v12M629.5 341v9M630.5 328v14m0 2v7M631.5 314v14m0 3v13M632.5 300v14m0 3v14M633.5 292v8m0 4v13M634.5 297v12M635.5 304v16M636.5 318v8M637.5 309v14M638.5 303v6m0 2v6M639.5 306v5M640.5 309v6M641.5 313v8M642.5 317v12M643.5 323v14M644.5 330v11M645.5 337v6M646.5 342v3M647.5 344v3M648.5 347v2M649.5 336v15M650.5 308v34M651.5 293v32M652.5 298v49M653.5 315v50M654.5 349v17M655.5 345v16M656.5 330v23M657.5 310v20m0 2v13M658.5 290v20m0 4v18M659.5 279v11m0 6v18M660.5 287v24M661.5 301v31M662.5 329v14M663.5 329v10M664.5 321v12M665.5 312v14M666.5 303v9m0 1v7M667.5 298v8m0 1v6M668.5 303v18M669.5 310v26M670.5 324v20M671.5 331v14M672.5 323v8m0 2v8M673.5 315v8m0 3v7M674.5 307v8m0 3v8M675.5 302v6m0 2v8M676.5 306v13M677.5 314v17M678.5 330v13M679.5 342v11M680.5 352v12M681.5 336v34M682.5 302v36M683.5 311v16M684.5 324v19M685.5 335v17M686.5 336v10m0 1v6M687.5 326v10m0 2v10M688.5 316v10m0 2v10M689.5 310v22M690.5 312v6m0 3v13M691.5 315v6M692.5 314v10M693.5 323v16M694.5 335v12M695.5 320v15M696.5 329v9M697.5 325v12M698.5 315v10M699.5 323v18M700.5 308v17M701.5 247v78M702.5 195v106M703.5 301v28M704.5 310v27M705.5 333v3M706.5 287v46M707.5 305v23M708.5 321v15M709.5 305v21M710.5 300v13M711.5 310v39M712.5 313v18M713.5 324v23M714.5 324v12M715.5 335v3M716.5 311v26M717.5 324v31M718.5 305v25M719.5 327v22M720.5 324v41M721.5 331v26M722.5 244v87M723.5 273v69M724.5 342v7M725.5 338v16M726.5 326v34M727.5 331v13M728.5 330v13M729.5 317v16M730.5 333v13M731.5 315v43M732.5 321v18M733.5 302v50M734.5 318v33M735.5 346v15M736.5 336v10M737.5 338v28M738.5 336v15M739.5 338v13M740.5 333v14M741.5 323v24M742.5 337v26M743.5 346v13M744.5 340v17M745.5 348v15M746.5 322v35M747.5 312v42M748.5 308v18M749.5 326v18M750.5 342v39M751.5 333v24M752.5 345v13M753.5 331v23M754.5 345v17M755.5 331v20M756.5 330v23M757.5 305v51M758.5 274v64M759.5 331v23M760.5 311v32M761.5 309v49M762.5 317v47M763.5 335v28M764.5 338v26M765.5 321v50M766.5 350v23M767.5 341v9M768.5 332v36M769.5 336v16M770.5 326v22M771.5 348v22M772.5 346v20M773.5 336v11M774.5 324v30M775.5 325v23M776.5 331v45M777.5 331v27M778.5 323v50M779.5 329v21M780.5 317v47M781.5 338v20M782.5 342v18M783.5 330v21M784.5 328v44M785.5 349v9M786.5 343v10M787.5 347v16M788.5 352v18M789.5 351v16M790.5 325v42M791.5 351v17M792.5 356v10M793.5 344v23M794.5 328v47M795.5 360v12M796.5 326v54M797.5 320v46M798.5 333v33M799.5 311v33M800.5 334v24M801.5 239v117M802.5 139v196M803.5 321v41M804.5 334v27M805.5 334v13M806.5 338v20M807.5 349v34M808.5 326v41M809.5 325v30M810.5 335v31M811.5 349v22M812.5 310v53M813.5 289v53M814.5 317v57M815.5 331v22M816.5 349v22M817.5 352v15M818.5 334v31M819.5 341v30M820.5 329v25M821.5 328v51M822.5 346v31M823.5 302v62M824.5 333v24M825.5 342v30M826.5 355v22M827.5 319v42M828.5 348v30M829.5 357v12M830.5 351v8M831.5 355v23M832.5 345v16M833.5 357v19M834.5 337v29M835.5 353v20M836.5 330v34M837.5 288v72M838.5 356v17M839.5 353v13M840.5 346v49M841.5 346v32M842.5 343v30M843.5 351v36M844.5 373v18M845.5 344v54M846.5 358v35M847.5 354v17M848.5 370v9M849.5 369v11M850.5 374v28M851.5 343v50M852.5 338v52M853.5 344v45M854.5 358v41M855.5 357v53M856.5 358v22M857.5 330v67M858.5 262v128M859.5 368v17M860.5 355v40M861.5 351v47M862.5 360v31M863.5 363v37M864.5 351v47M865.5 378v27M866.5 367v54M867.5 377v33M868.5 358v45M869.5 366v38M870.5 376v15M871.5 370v16M872.5 363v40M873.5 373v19M874.5 377v34M875.5 378v22M876.5 373v27M877.5 382v23M878.5 362v39M879.5 360v47M880.5 366v21M881.5 379v22M882.5 375v25M883.5 361v55M884.5 393v13M885.5 367v50M886.5 371v34M887.5 346v66M888.5 374v34M889.5 369v43M890.5 363v46M891.5 359v36M892.5 377v37M893.5 297v121M894.5 380v25M895.5 385v16M896.5 382v20M897.5 376v24M898.5 365v36M899.5 390v12M900.5 328v74M901.5 273v126M902.5 374v33M903.5 391v19M904.5 377v35M905.5 377v39M906.5 362v52M907.5 381v37M908.5 402v22M909.5 384v26M910.5 392v24M911.5 400v18M912.5 379v34M913.5 378v32M914.5 369v48M915.5 318v96M916.5 274v152M917.5 398v18M918.5 402v27M919.5 391v33M920.5 398v21M921.5 383v29M922.5 400v20M923.5 387v33M924.5 393v23M925.5 398v21M926.5 409v24M927.5 361v65M928.5 382v35M929.5 401v15M930.5 392v30M931.5 383v35M932.5 388v50M933.5 404v29M934.5 402v30M935.5 377v46M936.5 384v35M937.5 193v215M938.5 398v36M939.5 383v31M940.5 380v37M941.5 386v38M942.5 403v33M943.5 410v21M944.5 397v44M945.5 398v26M946.5 405v29M947.5 385v49M948.5 364v69M949.5 301v123M950.5 394v42M951.5 394v32M952.5 387v41M953.5 420v14M954.5 397v28M955.5 252v187M956.5 410v19M957.5 406v45M958.5 405v28M959.5 390v37M960.5 396v39M961.5 407v36M962.5 417v23M963.5 419v36M964.5 400v42M965.5 411v42M966.5 415v35M967.5 304v135M968.5 403v39M969.5 415v44M970.5 415v42M971.5 378v72M972.5 400v41M973.5 423v25M974.5 414v36M975.5 416v35M976.5 425v21M977.5 411v40M978.5 426v38M979.5 408v52M980.5 436v13M981.5 403v49M982.5 415v34M983.5 439v14M984.5 427v27M985.5 429v21M986.5 432v33M987.5 283v163M988.5 403v44M989.5 411v51M990.5 431v33M991.5 429v36M992.5 369v87M993.5 314v145M994.5 421v36M995.5 411v57M996.5 422v39M997.5 409v55M998.5 413v48M999.5 434v41M1000.5 425v52M1001.5 430v28M1002.5 435v27M1003.5 433v33M1004.5 414v50M1005.5 418v53M1006.5 451v28M1007.5 435v43M1008.5 433v32M1009.5 426v33M1010.5 418v54M1011.5 423v34M1012.5 440v26M1013.5 432v38M1014.5 426v41M1015.5 442v21M1016.5 219v247M1017.5 445v25M1018.5 432v40M1019.5 442v31M1020.5 417v55M1021.5 438v43M1022.5 427v64M1023.5 448v27M1024.5 450v28M1025.5 437v42M1026.5 453v28M1027.5 434v46M1028.5 421v55M1029.5 441v43M1030.5 421v73M1031.5 444v31M1032.5 436v33M1033.5 442v47M1034.5 445v29M1035.5 430v45M1036.5 333v164M1037.5 428v72M1038.5 434v53M1039.5 403v89M1040.5 346v144M1041.5 452v46M1042.5 445v37M1043.5 450v38M1044.5 430v75M1045.5 452v47M1046.5 446v57M1047.5 460v27M1048.5 463v45M1049.5 460v39M1050.5 461v50M1051.5 396v104M1052.5 459v46M1053.5 453v63M1054.5 464v39M1055.5 359v144M1056.5 448v56M1057.5 469v41M1058.5 462v43M1059.5 476v40M1060.5 461v43M1061.5 476v36M1062.5 271v233M1063.5 487v33M1064.5 487v42M1065.5 496v33M1066.5 473v46M1067.5 490v37M1068.5 488v44M1069.5 483v41" stroke="#ff0" stroke-width="1" fill="none" shape-rendering="crispEdges"/>
<path d="M155 709.5h15M155 677.5h15M155 655.5h15M155 638.5h15M155 624.5h15M155 612.5h15M155 601.5h15M155 592.5h15M155 584.5h31M155 530.5h15M155 499.5h15M155 477.5h15M155 459.5h15M155 445.5h15M155 433.5h15M155 423.5h15M155 414.5h15M155 406.5h31M155 352.5h15M155 320.5h15M155 298.5h15M155 281.5h15M155 267.5h15M155 255.5h15M155 244.5h15M155 235.5h15M155 227.5h31M155 173.5h15M155 142.5h15M155 120.5h15M155 102.5h15M155 88.5h15M175.5 720v-20M310.5 720v-11M389.5 720v-11M445.5 720v-11M488.5 720v-11M524.5 720v-11M554.5 720v-11M580.5 720v-11M603.5 720v-11M623.5 720v-20M758.5 720v-11M837.5 720v-11M893.5 720v-11M937.5 720v-11M972.5 720v-11M1002.5 720v-11M1028.5 720v-11M1051.5 720v-11M1072.5 720v-20" stroke="#fff" stroke-width="1" fill="none" shape-rendering="crispEdges"/>
<rect x="155.5" y="80.5" width="931" height="640" stroke="#fff" stroke-width="1" fill="none" shape-rendering="crispEdges"/>
<text x="630.5" y="36" font-size="25.08" text-anchor="middle">V1:SDB2_POWERSUPPLY_SWITCH_p12V: Amplitude spectrum density</text>
<g font-size="34">
<path d="M164.2 743.1L167.5 741.2V765.0H164.2V747.8L159.1 748.5V746.4L161.4 745.4Z" fill="#fff"/><text x="173.9" y="765">0</text>
<text x="309.2" y="765" text-anchor="middle">20</text>
<text x="387.9" y="765" text-anchor="middle">30</text>
<text x="444.0" y="765" text-anchor="middle">40</text>
<path d="M606.6 742.9L609.9 741.0V765.0H606.6V747.6L601.5 748.3V746.2L603.8 745.2Z" fill="#fff"/><text x="615.8" y="765">0</text><text x="634.5" y="750" font-size="23">2</text>
<text x="714" y="765">2</text><path d="M734.5 744L749 764M749 744L734.5 764" stroke="#fff" stroke-width="1.6"/><path d="M758.6 742.9L761.9 741.0V765.0H758.6V747.6L753.5 748.3V746.2L755.8 745.2Z" fill="#fff"/><text x="768.9" y="765">0</text><text x="788" y="750" font-size="23">2</text>
<path d="M1055.1 743.4L1058.4 741.5V765.0H1055.1V748.1L1050.0 748.8V746.7L1052.3 745.7Z" fill="#fff"/><text x="1064.9" y="765">0</text><text x="1083" y="748.5" font-size="23">3</text>
<path d="M90.0 221.5L93.3 219.6V243.5H90.0V226.2L84.9 226.9V224.8L87.2 223.8Z" fill="#fff"/><text x="100.3" y="243.5">0</text><text x="118" y="228" font-size="23">−4</text>
<path d="M90.0 400.5L93.3 398.6V422.7H90.0V405.2L84.9 405.9V403.8L87.2 402.8Z" fill="#fff"/><text x="100.3" y="422.7">0</text><text x="118" y="407" font-size="23">−5</text>
<path d="M90.0 578.5L93.3 576.6V600.6H90.0V583.2L84.9 583.9V581.8L87.2 580.8Z" fill="#fff"/><text x="100.3" y="600.6">0</text><text x="118" y="584.5" font-size="23">−6</text>
<text x="1081" y="785.5" text-anchor="end" font-size="33">Frequency [Hz]</text>
<text transform="translate(37.8 396.5) rotate(-90)" font-size="33">Amplitude [Amp/</text><text transform="translate(37.8 128.5) rotate(-90)" font-size="33">Hz]</text>
<path d="M3.5 88V132.4L39 135.7" stroke="#fff" stroke-width="1" fill="none"/><path d="M12.5 141.2L39 135.7" stroke="#fff" stroke-width="2" fill="none"/>
</g>
</svg>
</body></html>
